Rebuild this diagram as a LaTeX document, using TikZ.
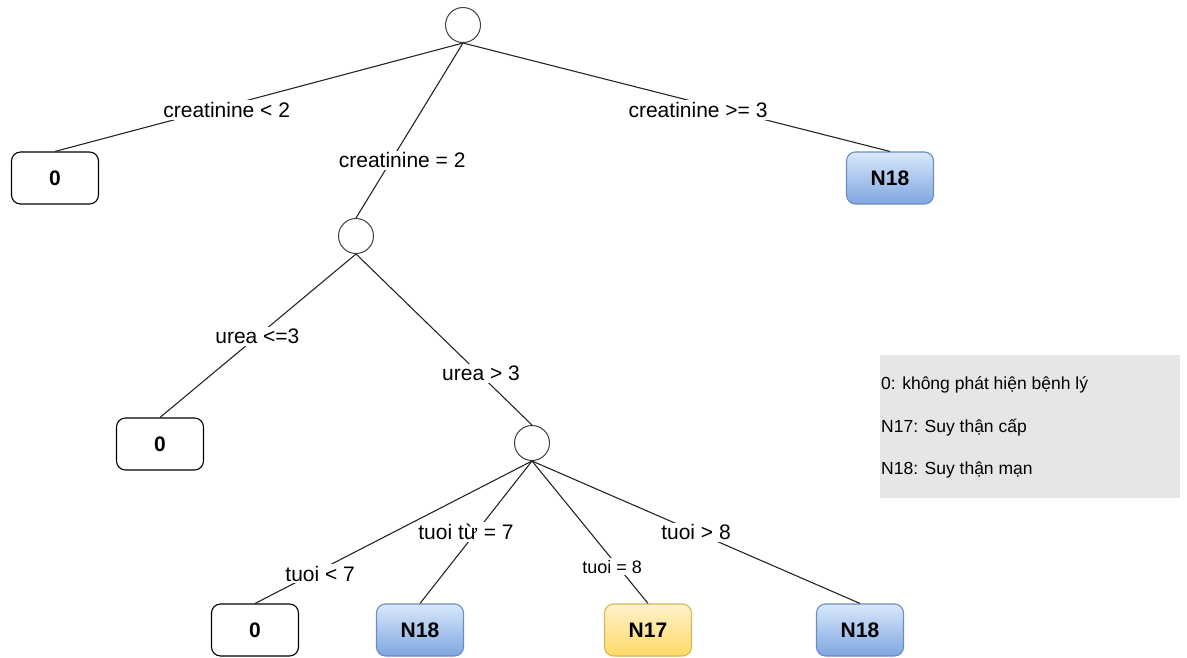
\documentclass[tikz,border=0pt]{standalone}
\usepackage{fontspec}
\setmainfont{Liberation Sans}
\definecolor{blueTop}{RGB}{218,232,252}
\definecolor{blueBot}{RGB}{126,166,224}
\definecolor{blueEdge}{RGB}{108,142,191}
\definecolor{yelTop}{RGB}{255,242,204}
\definecolor{yelBot}{RGB}{255,217,102}
\definecolor{yelEdge}{RGB}{214,182,86}
\definecolor{legendGray}{RGB}{230,230,230}
\begin{document}
\begin{tikzpicture}[x=1pt,y=1pt,
  split/.style={circle,draw=black!75,line width=1pt,minimum size=35pt,inner sep=0pt},
  leaf/.style={draw=black,line width=1.1pt,rounded corners=9pt,minimum width=87pt,minimum height=52pt,
    inner sep=0pt,font=\fontsize{21}{24}\selectfont\bfseries},
  blueleaf/.style={leaf,draw=blueEdge,top color=blueTop,bottom color=blueBot},
  yellowleaf/.style={leaf,draw=yelEdge,top color=yelTop,bottom color=yelBot},
  branch/.style={line width=1.1pt,draw=black!85},
  cond/.style={fill=white,inner sep=2pt,font=\fontsize{21}{24}\selectfont},
  smallcond/.style={cond,font=\fontsize{18}{21}\selectfont},
  legendtext/.style={anchor=west,inner sep=0pt,font=\fontsize{17.5}{20}\selectfont},
]
\useasboundingbox (0,0) rectangle (1187,-657);

% decision nodes
\node[split] (root) at (463,-25) {};
\node[split] (creat) at (356,-236) {};
\node[split] (urea) at (532,-443) {};

% leaves
\node[leaf] (leafA) at (55,-178) {0};
\node[blueleaf] (n18a) at (890,-178) {N18};
\node[leaf] (leafB) at (160,-444) {0};
\node[leaf] (leafC) at (255,-630) {0};
\node[blueleaf] (n18b) at (420,-630) {N18};
\node[yellowleaf] (n17) at (648,-630) {N17};
\node[blueleaf] (n18c) at (860,-630) {N18};

% branches with their conditions
\draw[branch] (root.south) -- (leafA.north) node[cond,pos=0.616,xshift=15pt] {creatinine < 2};
\draw[branch] (root.south) -- (n18a.north) node[cond,pos=0.616,xshift=-28pt] {creatinine >= 3};
\draw[branch] (root.south) -- (creat.north) node[cond,pos=0.671,xshift=11pt] {creatinine = 2};

\draw[branch] (creat.south) -- (leafB.north) node[cond,pos=0.503] {urea <=3};
\draw[branch] (creat.south) -- (urea.north) node[cond,pos=0.699,xshift=2pt] {urea > 3};

\draw[branch] (urea.south) -- (leafC.north) node[cond,pos=0.79,xshift=7pt] {tuoi < 7};
\draw[branch] (urea.south) -- (n18b.north) node[cond,pos=0.5,xshift=-10pt] {tuoi từ = 7};
\draw[branch] (urea.south) -- (n17.north) node[smallcond,pos=0.743,xshift=-6pt] {tuoi = 8};
\draw[branch] (urea.south) -- (n18c.north) node[cond,pos=0.5] {tuoi > 8};

% legend
\fill[legendGray] (880,-355) rectangle (1180,-498);
\node[legendtext] (legA) at (881,-385) {0: không phát hiện bệnh lý};
\node[legendtext] (legB) at (881,-428) {N17: Suy thận cấp};
\node[legendtext] (legC) at (881,-470) {N18: Suy thận mạn};
\end{tikzpicture}
\end{document}
